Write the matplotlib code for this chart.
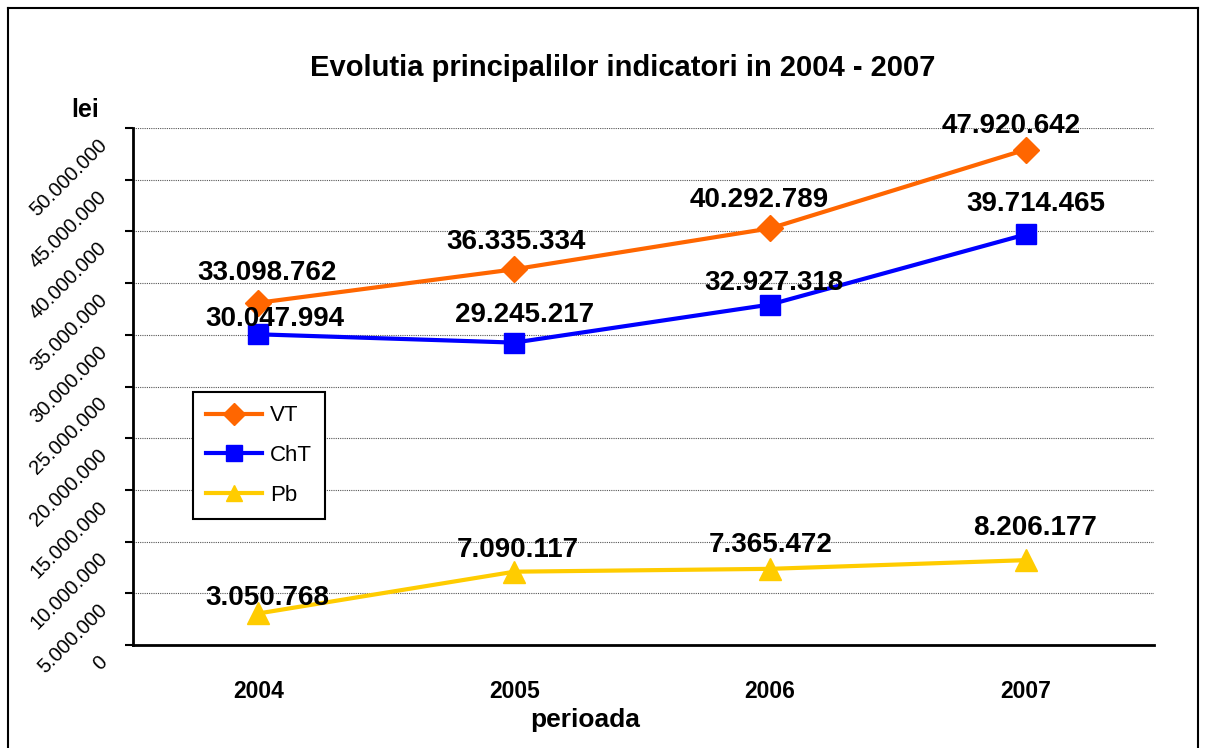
import numpy as np
import matplotlib
matplotlib.use('Agg')
import matplotlib.pyplot as plt
from matplotlib.ticker import NullFormatter
from matplotlib.lines import Line2D

plt.rcParams['font.family'] = ['Liberation Sans', 'DejaVu Sans']

years = ['2004', '2005', '2006', '2007']
vt = [33098762, 36335334, 40292789, 47920642]
cht = [30047994, 29245217, 32927318, 39714465]
pb = [3050768, 7090117, 7365472, 8206177]
y_ticks = [0, 5000000, 10000000, 15000000, 20000000, 25000000,
           30000000, 35000000, 40000000, 45000000, 50000000]

# deplasari etichete (pixeli)
off_vt = [(9, 30), (2, 27), (-11, 28), (-15, 24)]
off_cht = [(16, 15), (10, 28), (4, 22), (10, 30)]
off_pb = [(9, 15), (4, 22), (1, 24), (9, 32)]


def fmt(v):
    return '{:,}'.format(int(v)).replace(',', '.')


fig = plt.figure(figsize=(12.05, 7.48), dpi=100)
ax = fig.add_axes([133 / 1205, 1 - 645 / 748, 1021 / 1205, 517 / 748])

x = np.arange(len(years))
ax.plot(x, vt, color='#FF6600', lw=3, marker='D', ms=13, label='VT')
ax.plot(x, cht, color='#0000FF', lw=3, marker='s', ms=15, label='ChT')
ax.plot(x, pb, color='#FFCC00', lw=3, marker='^', ms=16, label='Pb')

for vals, offs in [(vt, off_vt), (cht, off_cht), (pb, off_pb)]:
    for i, v in enumerate(vals):
        ax.annotate(fmt(v), (x[i], v), xytext=offs[i], textcoords='offset pixels',
                    ha='center', va='center', fontsize=20, fontweight='bold')

ax.set_xlim(-0.49, 3.5)
ax.set_ylim(0, 50000000)
ax.set_yticks(y_ticks)
ax.yaxis.set_major_formatter(NullFormatter())
ax.grid(axis='y', linestyle=(0, (1, 1)), color='#555555', lw=0.8)
ax.set_axisbelow(True)

# etichete axa Y rotite
for v in y_ticks:
    ax.annotate(fmt(v), (0, v), xycoords=('axes fraction', 'data'),
                xytext=(-29, -14), textcoords='offset pixels', rotation=45,
                rotation_mode='anchor', ha='right', va='center', fontsize=14.5,
                annotation_clip=False)

for s in ['top', 'right']:
    ax.spines[s].set_visible(False)
ax.spines['left'].set_linewidth(2)
ax.spines['bottom'].set_linewidth(2)

ax.set_xticks(x)
ax.set_xticklabels(years, fontsize=16.5, fontweight='bold')
ax.tick_params(axis='x', length=0, pad=25)
ax.tick_params(axis='y', length=6, width=1.5, direction='out')

fig.text(623 / 1205, 1 - 68 / 748, 'Evolutia principalilor indicatori in 2004 - 2007',
         ha='center', va='center', fontsize=21, fontweight='bold')
fig.text(85 / 1205, 1 - 110 / 748, 'lei', ha='center', va='center',
         fontsize=18, fontweight='bold')
fig.text(585 / 1205, 1 - 720 / 748, 'perioada', ha='center', va='center',
         fontsize=19, fontweight='bold')

leg = fig.legend(loc='upper left', bbox_to_anchor=(193 / 1205, 1 - 392 / 748),
                 borderaxespad=0, fontsize=16, frameon=True, fancybox=False,
                 edgecolor='black', handlelength=2.5, handletextpad=0.35,
                 borderpad=0.6, labelspacing=0.85, framealpha=1)
leg.get_frame().set_linewidth(1.5)
for h in leg.legend_handles:
    h.set_markersize(11)

# chenar exterior
fig.add_artist(Line2D([8 / 1205, 8 / 1205], [0, 1 - 8 / 748], color='black', lw=1.5))
fig.add_artist(Line2D([8 / 1205, 1198 / 1205], [1 - 8 / 748, 1 - 8 / 748], color='black', lw=1.5))
fig.add_artist(Line2D([1198 / 1205, 1198 / 1205], [0, 1 - 8 / 748], color='black', lw=1.5))

fig.savefig('out.png', dpi=100)
